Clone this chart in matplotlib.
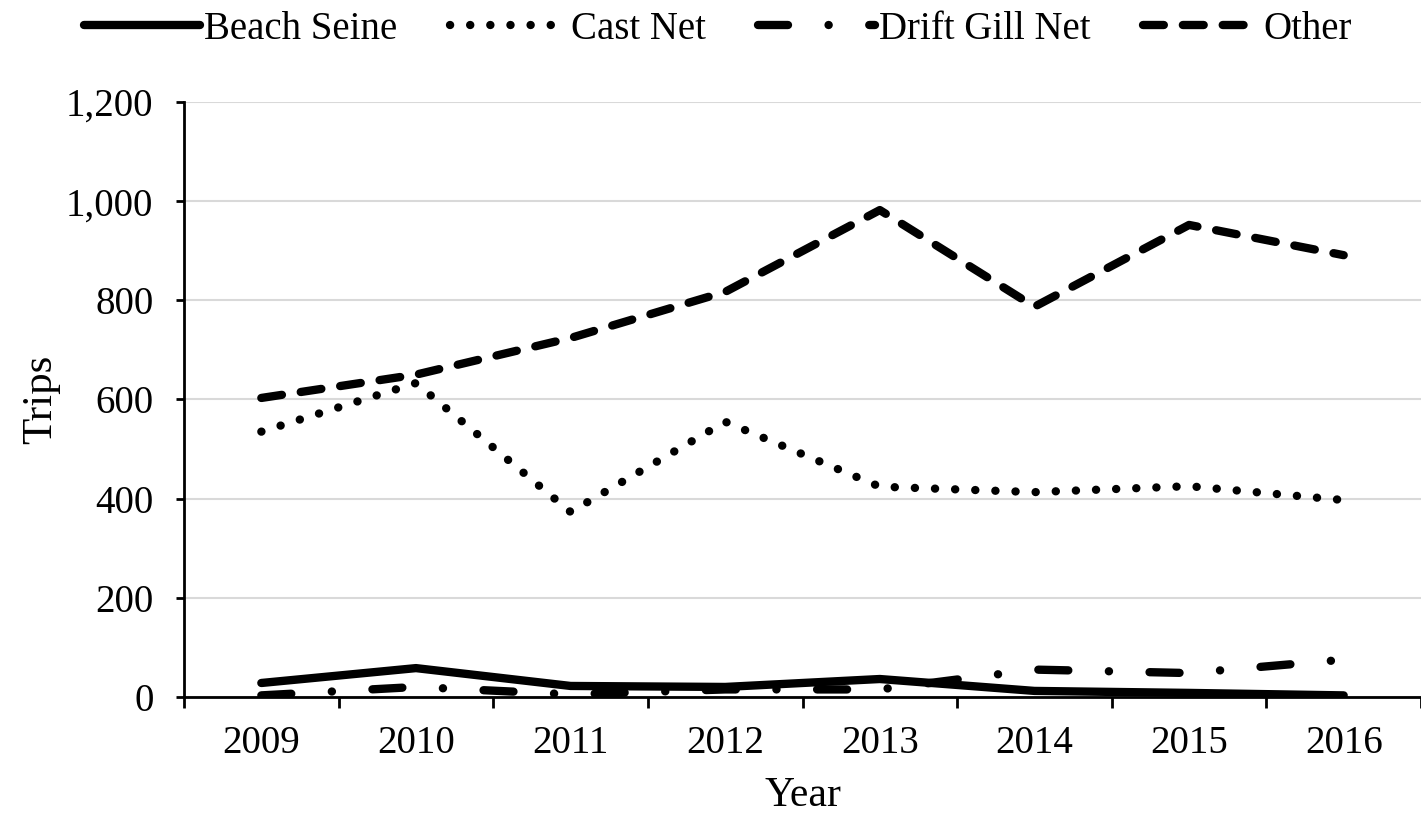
import matplotlib
matplotlib.use("Agg")
import matplotlib.pyplot as plt
from matplotlib.ticker import FuncFormatter, FixedLocator

plt.rcParams['font.family'] = ['Liberation Serif', 'DejaVu Serif']
plt.rcParams['lines.scale_dashes'] = False

years = ["2009", "2010", "2011", "2012", "2013", "2014", "2015", "2016"]
beach_seine = [28, 58, 22, 20, 36, 12, 8, 3]
cast_net = [535, 633, 373, 555, 424, 413, 425, 397]
drift_gill_net = [3, 20, 5, 15, 15, 55, 48, 75]
other = [603, 650, 724, 817, 982, 787, 952, 891]

fig = plt.figure(figsize=(14.21, 8.16), dpi=100)
ax = fig.add_axes([0.1295, 0.146, 0.8705, 0.729])

x = list(range(len(years)))
lw = 6.0
ax.plot(x, beach_seine, color='black', lw=lw, solid_capstyle='round', solid_joinstyle='round', label='Beach Seine')
ax.plot(x, cast_net, color='black', lw=lw, dashes=(0.1, 14.4), dash_capstyle='round', label='Cast Net')
ax.plot(x, drift_gill_net, color='black', lw=lw, dashes=(21.6, 29.2, 0.1, 29.2), dash_capstyle='round', label='Drift Gill Net')
ax.plot(x, other, color='black', lw=lw, dashes=(15, 13.7), dash_capstyle='round', label='Other')

ax.set_xlim(-0.5, len(years) - 0.5)
ax.set_ylim(0, 1200)
ax.set_yticks(range(0, 1201, 200))
ax.yaxis.set_major_formatter(FuncFormatter(lambda v, p: f"{int(v):,}"))
ax.set_xticks(x)
ax.set_xticklabels(years)
ax.xaxis.set_minor_locator(FixedLocator([i - 0.5 for i in range(len(years) + 1)]))

ax.grid(axis='y', color='#d9d9d9', lw=1.5)
ax.set_axisbelow(True)
for s in ['top', 'right']:
    ax.spines[s].set_visible(False)
for s in ['left', 'bottom']:
    ax.spines[s].set_linewidth(2)
    ax.spines[s].set_color('black')

ax.tick_params(axis='y', which='major', length=6, width=2, direction='out', pad=16, labelsize=28)
ax.tick_params(axis='x', which='major', length=0, pad=20, labelsize=28)
ax.tick_params(axis='x', which='minor', length=8, width=2, direction='out')

ax.set_xlabel('Year', fontsize=30, labelpad=11)
ax.set_ylabel('Trips', fontsize=31, labelpad=4)

fig.legend(loc='upper center', bbox_to_anchor=(0.505, 1.03), ncol=4, frameon=False,
           fontsize=28, handlelength=3.0, handletextpad=0.1, columnspacing=1.35)

fig.savefig('out.png', dpi=100)
